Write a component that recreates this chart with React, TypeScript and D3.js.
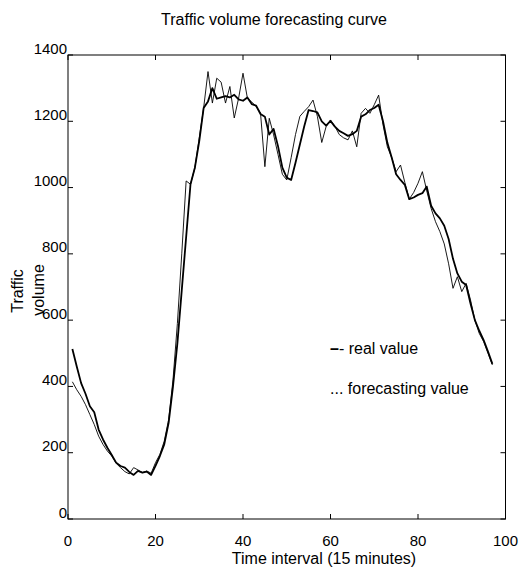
import React from "react";
import * as d3 from "d3";

const realValue: number[] = [
  513, 460, 410, 378, 340, 322, 270, 240, 215, 193,
  170, 160, 155, 142, 133, 145, 140, 143, 133, 160,
  190, 225, 290, 400, 530, 690, 850, 1010, 1060, 1140,
  1240, 1260, 1300, 1268, 1272, 1276, 1272, 1280, 1266, 1262,
  1272, 1252, 1247, 1222, 1214, 1160, 1177, 1125, 1060, 1030,
  1023, 1075, 1130, 1185, 1234, 1231, 1227, 1200, 1187, 1201,
  1184, 1171, 1164, 1156, 1161, 1171, 1214, 1221, 1234, 1240,
  1250, 1200, 1135, 1090, 1040, 1023, 1008, 965, 970, 978,
  983, 1003, 945, 922, 907, 885, 845, 785, 741, 716,
  706, 650, 600, 568, 540, 505, 468,
];

const forecastValue: number[] = [
  414, 390, 370, 345, 315, 285, 250, 225, 205, 190,
  168, 155, 143, 136, 155, 148, 140, 145, 138, 170,
  195, 235, 300, 420, 590, 800, 1020, 1010, 1060, 1150,
  1240, 1350, 1255, 1330, 1318, 1255, 1305, 1210, 1270, 1345,
  1270, 1258, 1245, 1225, 1063, 1209, 1159, 1100, 1040, 1023,
  1090, 1160, 1215, 1230, 1244, 1264, 1215, 1136, 1184, 1204,
  1185, 1160, 1150, 1144, 1171, 1123, 1224, 1239, 1224, 1250,
  1279, 1190, 1123, 1090, 1048, 1068, 1015, 965, 985, 1013,
  1048, 990, 937, 897, 867, 830, 770, 696, 731, 686,
  711, 661, 600, 560, 535, 500, 465,
];

const xTicks: number[] = [0, 20, 40, 60, 80, 100];
const yTicks: number[] = [0, 200, 400, 600, 800, 1000, 1200, 1400];

const W = 527;
const H = 572;
const L = 68;
const R = 505.5;
const T = 55;
const B = 519;
const FONT = "'Liberation Sans', Arial, Helvetica, sans-serif";

export default function App() {
  const x = d3.scaleLinear().domain([0, 100]).range([L, R]);
  const y = d3.scaleLinear().domain([0, 1400]).range([B, T]);
  const line = d3
    .line<number>()
    .x((_, i) => x(i + 1))
    .y((d) => y(d));
  const tl = 5;
  return (
    <svg
      width={W}
      height={H}
      viewBox={`0 0 ${W} ${H}`}
      style={{ position: "absolute", left: 0, top: 0, background: "#fff" }}
      fontFamily={FONT}
    >
      <rect x={0} y={0} width={W} height={H} fill="#fff" />
      <text x={274} y={25} fontSize={16} textAnchor="middle" fill="#000">
        Traffic volume forecasting curve
      </text>
      {/* lines */}
      <path d={line(forecastValue) || ""} fill="none" stroke="#000" strokeWidth={0.9} strokeLinejoin="round" />
      <path d={line(realValue) || ""} fill="none" stroke="#000" strokeWidth={1.8} strokeLinejoin="round" />
      {/* box */}
      <rect x={L} y={T} width={R - L} height={B - T} fill="none" stroke="#000" strokeWidth={1} />
      {xTicks.map((t) => (
        <g key={"x" + t}>
          <line x1={x(t)} x2={x(t)} y1={B} y2={B - tl} stroke="#000" strokeWidth={1} />
          <line x1={x(t)} x2={x(t)} y1={T} y2={T + tl} stroke="#000" strokeWidth={1} />
          <text x={x(t)} y={546} fontSize={15} textAnchor="middle" fill="#000">
            {t}
          </text>
        </g>
      ))}
      {yTicks.map((t) => (
        <g key={"y" + t}>
          <line x1={L} x2={L + tl} y1={y(t)} y2={y(t)} stroke="#000" strokeWidth={1} />
          <line x1={R} x2={R - tl} y1={y(t)} y2={y(t)} stroke="#000" strokeWidth={1} />
          <text x={67} y={y(t) - 1.5} fontSize={15} textAnchor="end" fill="#000">
            {t}
          </text>
        </g>
      ))}
      <text x={324} y={564} fontSize={16} textAnchor="middle" fill="#000">
        Time interval (15 minutes)
      </text>
      <g transform="translate(23,291) rotate(-90)">
        <text x={0} y={0} fontSize={16} textAnchor="middle" fill="#000">
          Traffic
        </text>
      </g>
      <g transform="translate(43.5,290) rotate(-90)">
        <text x={0} y={0} fontSize={16} textAnchor="middle" fill="#000">
          volume
        </text>
      </g>
      <text x={330} y={354} fontSize={16} fill="#000">
        <tspan fontWeight="bold">–</tspan>
        <tspan>- real value</tspan>
      </text>
      <text x={330} y={394} fontSize={16} fill="#000">
        ... forecasting value
      </text>
    </svg>
  );
}
